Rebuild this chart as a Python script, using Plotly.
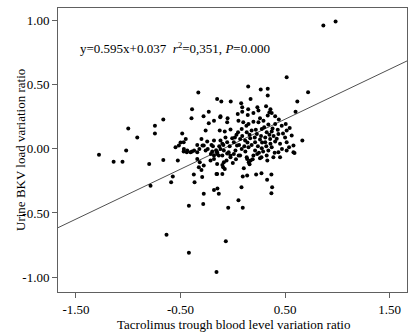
import plotly.graph_objects as go

# Scatter data: tacrolimus trough variation ratio (x) vs urine BKV load variation ratio (y)
x_vals = [
    -1.28, -1.14, -1.055, -1.02, -1.00, -0.914, -0.80, -0.787, -0.745, -0.745,
    -0.665, -0.665, -0.634, -0.59, -0.574, -0.548, -0.526, -0.516, -0.50, -0.484,
    -0.47, -0.45, -0.468, -0.47, -0.44, -0.436, -0.42, -0.42, -0.404, -0.39,
    -0.39, -0.395, -0.373, -0.366, -0.37, -0.34, -0.34, -0.34, -0.33, -0.325,
    -0.32, -0.316, -0.30, -0.30, -0.293, -0.29, -0.283, -0.28, -0.278, -0.278,
    -0.278, -0.26, -0.26, -0.245, -0.23, -0.23, -0.213, -0.204, -0.197, -0.18,
    -0.18, -0.18, -0.18, -0.18, -0.156, -0.156, -0.15, -0.15, -0.15, -0.15,
    -0.15, -0.147, -0.134, -0.134, -0.125, -0.12, -0.118, -0.118, -0.118, -0.11,
    -0.10, -0.10, -0.10, -0.10, -0.092, -0.086, -0.086, -0.077, -0.077, -0.067,
    -0.054, -0.054, -0.054, -0.05, -0.044, -0.04, -0.022, -0.022, -0.022, -0.02,
    -0.006, 0.01, 0.01, 0.025, 0.035, 0.04, 0.047, 0.054, 0.054, 0.056,
    0.07, 0.07, 0.08, 0.083, 0.085, 0.085, 0.09, 0.09, 0.095, 0.095,
    0.10, 0.105, 0.118, 0.133, 0.133, 0.137, 0.137, 0.143, 0.147, 0.147,
    0.15, 0.15, 0.152, 0.16, 0.166, 0.17, 0.17, 0.18, 0.197, 0.197,
    0.197, 0.213, 0.213, 0.223, 0.23, 0.233, 0.235, 0.245, 0.245, 0.26,
    0.26, 0.267, 0.274, 0.274, 0.277, 0.277, 0.293, 0.31, 0.318, 0.324,
    0.324, 0.328, 0.334, 0.334, 0.334, 0.34, 0.35, 0.357, 0.36, 0.369,
    0.372, 0.372, 0.372, 0.376, 0.369, 0.388, 0.405, 0.405, 0.405, 0.436,
    0.436, 0.452, 0.452, 0.468, 0.50, 0.506, 0.515, 0.515, 0.515, 0.515,
    0.538, 0.544, 0.563, 0.58, 0.58, 0.59, 0.60, 0.617, 0.665, 0.72,
    0.866, 0.983,
    0.02, 0.05, 0.06, 0.09, 0.11, 0.12, 0.14, 0.16, 0.18, 0.19,
    0.21, 0.22, 0.24, 0.25, 0.27, 0.28, 0.29, 0.30, 0.31, 0.32,
    0.33, 0.34, 0.35, 0.36, 0.38, 0.39, 0.40, 0.42, 0.43, 0.03,
    -0.03, -0.07, -0.09, -0.13, -0.16, -0.19, -0.21, -0.24, -0.06, 0.00,
    0.13, 0.26, 0.44, 0.48, 0.47,
]
y_vals = [
    -0.045, -0.10, -0.10, -0.013, 0.16, 0.09, -0.117, -0.287, 0.18, 0.12,
    0.23, -0.086, -0.67, -0.26, -0.216, 0.013, -0.09, 0.026, 0.05, 0.12,
    0.052, 0.078, 0.0, -0.021, -0.026, -0.013, -0.443, -0.81, -0.026, -0.021,
    0.31, 0.24, -0.20, -0.26, -0.013, 0.031, -0.026, -0.078, 0.44, -0.143,
    0.0, -0.104, 0.078, -0.164, -0.22, 0.026, -0.43, 0.255, 0.026, -0.13,
    -0.35, 0.143, -0.013, 0.057, 0.29, 0.20, -0.09, 0.031, -0.021, 0.065,
    -0.052, -0.078, 0.22, -0.32, -0.195, -0.96, 0.39, -0.04, -0.026, -0.117,
    -0.195, -0.31, -0.052, -0.35, 0.143, 0.248, 0.255, 0.065, 0.0, 0.37,
    0.04, -0.052, -0.125, -0.195, -0.143, -0.013, -0.104, 0.135, -0.156, -0.72,
    0.208, 0.052, -0.036, 0.24, -0.46, -0.026, 0.151, -0.052, -0.065, 0.37,
    0.084, 0.052, -0.04, -0.013, 0.11, 0.026, 0.273, 0.22, -0.40, -0.052,
    0.078, -0.052, 0.357, -0.30, 0.156, 0.0, 0.29, 0.325, -0.46, -0.216,
    0.208, -0.15, 0.065, 0.13, -0.065, -0.078, -0.208, 0.265, 0.487, 0.31,
    0.195, 0.013, -0.104, -0.12, 0.084, 0.39, -0.09, 0.143, 0.28, 0.213,
    -0.052, 0.052, -0.013, -0.20, 0.117, -0.04, 0.325, 0.30, 0.208, 0.073,
    -0.073, 0.463, -0.065, -0.19, 0.156, 0.005, 0.22, 0.052, 0.333, 0.13,
    -0.052, -0.24, 0.47, 0.416, 0.26, -0.013, 0.287, 0.078, 0.31, -0.20,
    0.28, 0.135, 0.013, -0.30, -0.346, -0.065, 0.255, 0.195, 0.057, 0.117,
    -0.026, 0.04, -0.065, 0.18, 0.09, 0.195, 0.143, 0.052, -0.013, 0.56,
    0.013, 0.164, 0.104, 0.026, -0.026, -0.031, 0.29, 0.37, 0.065, 0.443,
    0.963, 0.995,
    0.09, 0.13, 0.03, 0.10, 0.02, -0.02, 0.05, 0.11, 0.03, -0.08,
    0.09, 0.15, 0.02, -0.03, 0.10, 0.05, -0.02, 0.17, 0.09, 0.02,
    -0.09, 0.19, 0.11, 0.04, 0.16, 0.10, -0.03, 0.08, 0.15, -0.08,
    0.02, 0.09, 0.03, 0.02, -0.01, 0.02, -0.04, 0.00, -0.09, -0.11,
    0.18, 0.24, 0.23, 0.12, 0.00,
]

# Fitted line as drawn in the figure
fit_slope = 0.39
fit_intercept = 0.037
x_range = [-1.672, 1.666]
y_range = [-1.117, 1.10]

x_ticks = [-1.5, -0.5, 0.5, 1.5]
x_tick_text = ["-1.50", "-0.50", "0.50", "1.50"]
y_ticks = [-1.0, -0.5, 0.0, 0.5, 1.0]
y_tick_text = ["-1.00", "-0.50", "0.00", "0.50", "1.00"]

FONT = "Liberation Serif, Times New Roman, serif"
AXIS_COLOR = "#606060"

fig = go.Figure()
fig.add_trace(go.Scatter(
    x=x_range,
    y=[fit_slope * v + fit_intercept for v in x_range],
    mode="lines",
    line=dict(color="#505050", width=1),
    hoverinfo="skip",
))
fig.add_trace(go.Scatter(
    x=x_vals, y=y_vals, mode="markers",
    marker=dict(color="black", size=4, line=dict(width=0)),
))

axis_common = dict(
    showgrid=False, zeroline=False, showline=True, mirror=True,
    linecolor=AXIS_COLOR, linewidth=1,
    ticks="outside", ticklen=5, tickcolor=AXIS_COLOR, tickwidth=1,
    tickfont=dict(family=FONT, size=13, color="black"),
)

fig.update_layout(
    width=417, height=335,
    margin=dict(l=58, r=10, t=8, b=43),
    paper_bgcolor="white", plot_bgcolor="white",
    showlegend=False,
    xaxis=dict(range=x_range, tickvals=x_ticks, ticktext=x_tick_text, **axis_common),
    yaxis=dict(range=y_range, tickvals=y_ticks, ticktext=y_tick_text, **axis_common),
    annotations=[
        dict(text="y=0.595x+0.037  <i>r</i><sup>2</sup>=0,351, <i>P</i>=0.000",
             xref="paper", yref="paper", x=0.057, y=0.859,
             xanchor="left", yanchor="middle", showarrow=False,
             font=dict(family=FONT, size=13, color="black")),
        dict(text="Tacrolimus trough blood level variation ratio",
             xref="paper", yref="paper", x=0.504, y=-0.116,
             xanchor="center", yanchor="middle", showarrow=False,
             font=dict(family=FONT, size=13, color="black")),
        dict(text="Urine BKV load variation ratio",
             xref="paper", yref="paper", x=-0.109, y=0.5,
             xanchor="center", yanchor="middle", textangle=-90, showarrow=False,
             font=dict(family=FONT, size=13, color="black")),
    ],
)

fig.write_html("out.html")
